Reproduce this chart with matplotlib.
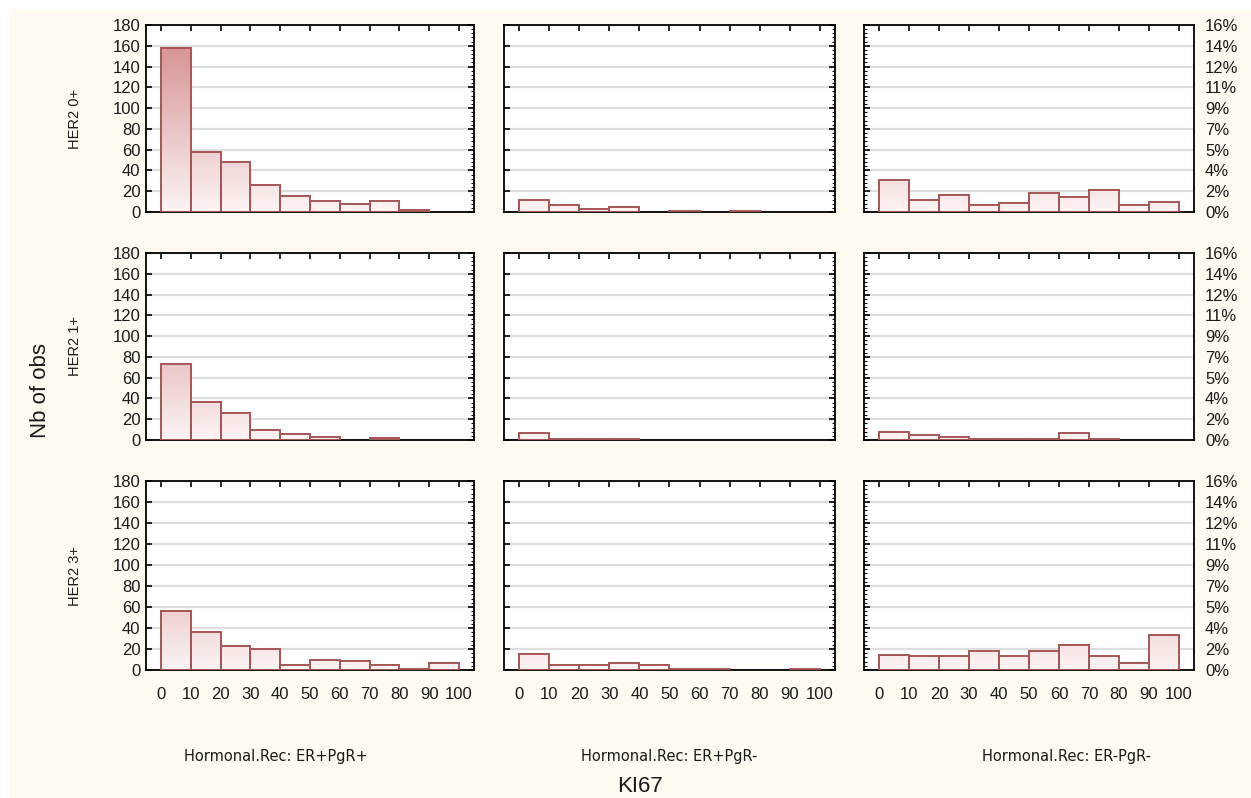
import numpy as np
import matplotlib
matplotlib.use("Agg")
import matplotlib.pyplot as plt
from matplotlib.colors import LinearSegmentedColormap
from matplotlib.ticker import MultipleLocator
from matplotlib.patches import Rectangle

# KI67 bins (left edges, width 10)
bin_edges = [0, 10, 20, 30, 40, 50, 60, 70, 80, 90]
row_labels = ["HER2 0+", "HER2 1+", "HER2 3+"]
col_labels = ["Hormonal.Rec: ER+PgR+", "Hormonal.Rec: ER+PgR-", "Hormonal.Rec: ER-PgR-"]

# counts per panel: [row][col]
her2_0_erp_pgrp = [158, 58, 48, 26, 15, 11, 8, 11, 2, 0]
her2_0_erp_pgrn = [12, 7, 3, 5, 0, 1, 0, 1, 0, 0]
her2_0_ern_pgrn = [31, 12, 16, 7, 9, 18, 14, 21, 7, 10]
her2_1_erp_pgrp = [73, 37, 26, 10, 6, 3, 0, 2, 0, 0]
her2_1_erp_pgrn = [7, 1, 1, 1, 0, 0, 0, 0, 0, 0]
her2_1_ern_pgrn = [8, 5, 3, 1, 1, 1, 7, 1, 0, 0]
her2_3_erp_pgrp = [56, 36, 23, 20, 5, 10, 9, 5, 1, 7]
her2_3_erp_pgrn = [15, 5, 5, 7, 5, 1, 1, 0, 0, 1]
her2_3_ern_pgrn = [14, 13, 13, 18, 13, 18, 24, 13, 7, 33]

counts = [[her2_0_erp_pgrp, her2_0_erp_pgrn, her2_0_ern_pgrn],
          [her2_1_erp_pgrp, her2_1_erp_pgrn, her2_1_ern_pgrn],
          [her2_3_erp_pgrp, her2_3_erp_pgrn, her2_3_ern_pgrn]]

y_ticks = [0, 20, 40, 60, 80, 100, 120, 140, 160, 180]
pct_labels = ["0%", "2%", "4%", "5%", "7%", "9%", "11%", "12%", "14%", "16%"]
x_ticks = [0, 10, 20, 30, 40, 50, 60, 70, 80, 90, 100]

W, H = 1251, 798
fig = plt.figure(figsize=(W / 100, H / 100), dpi=100, facecolor="white")
fig.patches.append(Rectangle((9 / W, 0), 1, 1 - 10 / H, transform=fig.transFigure,
                             facecolor="#fffaef", edgecolor="none", zorder=-10))

grad = LinearSegmentedColormap.from_list("bar", ["#fcf3f3", "#d48e8f"])
edge = "#a65556"
txt = "#1a1a1a"
font = "Liberation Sans"

col_x = [(146, 474), (504, 835), (864, 1194)]
row_y = [(25, 212), (253, 440), (481, 670)]

for r in range(3):
    for c in range(3):
        x0, x1 = col_x[c]
        y0, y1 = row_y[r]
        ax = fig.add_axes([x0 / W, 1 - y1 / H, (x1 - x0) / W, (y1 - y0) / H])
        ax.set_facecolor("white")
        ax.set_axisbelow(True)
        ax.yaxis.grid(True, color="#dedede", linewidth=1.6)

        # empty bins get no bar at all
        xs = [e for e, n in zip(bin_edges, counts[r][c]) if n > 0]
        ns = [n for n in counts[r][c] if n > 0]
        bars = ax.bar(xs, ns, width=10, align="edge",
                      facecolor="none", edgecolor=edge, linewidth=1.4, zorder=3)
        for b in bars:
            h = b.get_height()
            g = np.linspace(0, h / 170, 60).reshape(-1, 1)
            ax.imshow(g, cmap=grad, vmin=0, vmax=1, origin="lower", aspect="auto",
                      extent=[b.get_x(), b.get_x() + b.get_width(), 0, h], zorder=2)

        ax.set_xlim(-5, 105)
        ax.set_ylim(0, 180)
        ax.set_xticks(x_ticks)
        ax.set_yticks(y_ticks)
        ax.yaxis.set_minor_locator(MultipleLocator(4))
        ax.tick_params(which="major", direction="in", top=True, bottom=False,
                       right=True, length=4, width=1.2, color="black")
        ax.tick_params(which="minor", direction="in", left=False, right=True,
                       length=2.5, width=0.8, color="black")
        for s in ax.spines.values():
            s.set_linewidth(1.3)
            s.set_color("black")

        if c == 0:
            ax.set_yticklabels([str(v) for v in y_ticks], fontsize=12,
                               color=txt, family=font)
            ax.tick_params(axis="y", pad=4)
            ax.set_ylabel(row_labels[r], fontsize=10.5, color=txt, family=font, labelpad=22)
        else:
            ax.set_yticklabels([])
        if r == 2:
            ax.set_xticklabels([str(v) for v in x_ticks], fontsize=12,
                               color=txt, family=font)
            ax.tick_params(axis="x", pad=12)
        else:
            ax.set_xticklabels([])

        if c == 2:
            ax2 = ax.twinx()
            ax2.set_ylim(0, 180)
            ax2.set_yticks(y_ticks)
            ax2.set_yticklabels(pct_labels, fontsize=12, color=txt, family=font)
            ax2.tick_params(axis="y", direction="in", length=0, pad=8)
            for s in ax2.spines.values():
                s.set_visible(False)

# bottom column labels
for c, xc in enumerate([276, 669, 1066]):
    fig.text(xc / W, 1 - 757 / H, col_labels[c], ha="center", va="center",
             fontsize=10.5, color=txt, family="DejaVu Sans")

fig.text(640 / W, 1 - 787 / H, "KI67", ha="center", va="center",
         fontsize=16, color=txt, family=font)
fig.text(40 / W, 1 - 390 / H, "Nb of obs", ha="center", va="center",
         rotation=90, fontsize=16, color=txt, family=font)

fig.savefig("out.png", dpi=100, facecolor=fig.get_facecolor())
